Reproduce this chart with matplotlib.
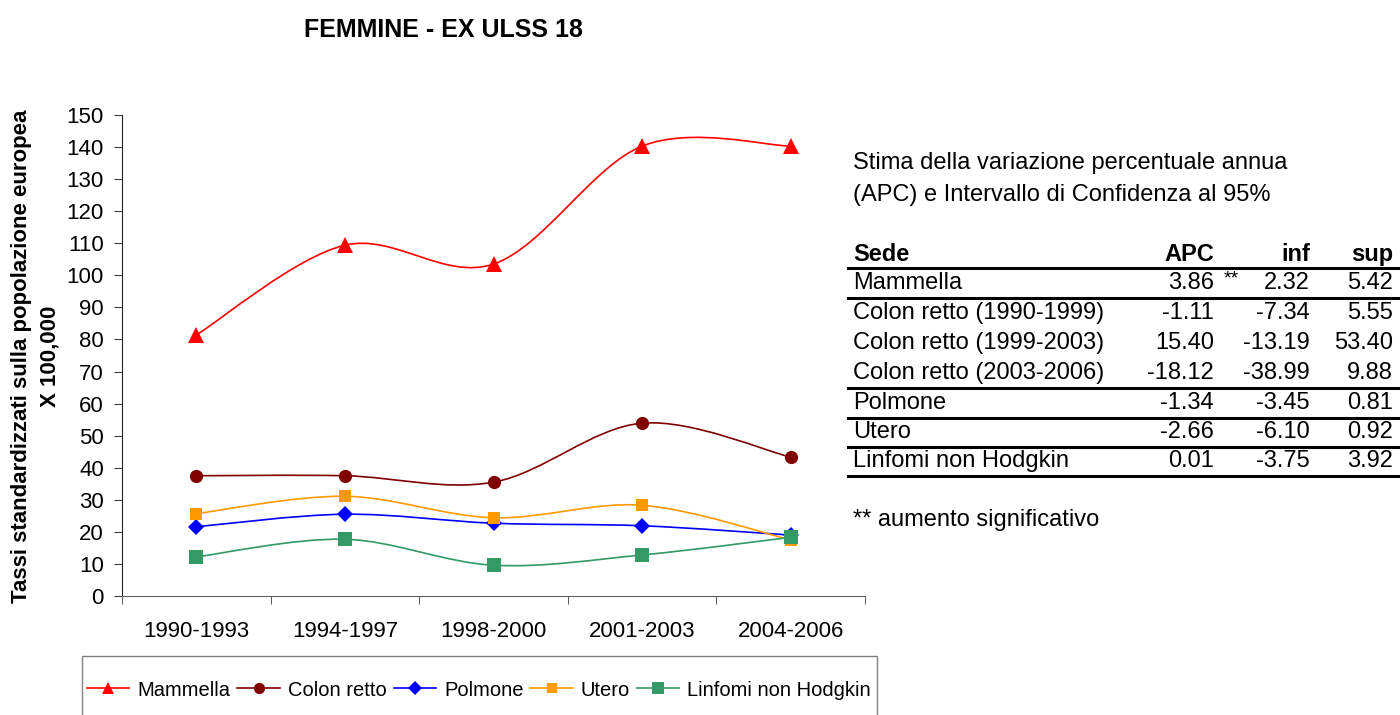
import numpy as np
import matplotlib
matplotlib.use("Agg")
import matplotlib.pyplot as plt
from matplotlib.path import Path
from matplotlib.patches import PathPatch, Rectangle
from matplotlib.lines import Line2D

plt.rcParams['font.family'] = ['Liberation Sans', 'DejaVu Sans']

# data
periods = ['1990-1993', '1994-1997', '1998-2000', '2001-2003', '2004-2006']
mammella = [81.4, 109.4, 103.5, 140.3, 140.3]
colon_retto = [37.5, 37.5, 35.5, 53.9, 43.3]
polmone = [21.6, 25.5, 22.7, 21.9, 19.0]
utero = [25.7, 31.1, 24.4, 28.3, 17.5]
linfomi = [12.2, 17.7, 9.6, 12.8, 18.3]

series_names = ['Mammella', 'Colon retto', 'Polmone', 'Utero', 'Linfomi non Hodgkin']
series_values = [mammella, colon_retto, polmone, utero, linfomi]

# APC table
sede = ['Mammella', 'Colon retto (1990-1999)', 'Colon retto (1999-2003)',
        'Colon retto (2003-2006)', 'Polmone', 'Utero', 'Linfomi non Hodgkin']
apc = ['3.86', '-1.11', '15.40', '-18.12', '-1.34', '-2.66', '0.01']
inf = ['2.32', '-7.34', '-13.19', '-38.99', '-3.45', '-6.10', '-3.75']
sup = ['5.42', '5.55', '53.40', '9.88', '0.81', '0.92', '3.92']
signif = ['**', '', '', '', '', '', '']
group_end = [0, 3, 4, 5, 6]   # rows followed by a rule

# styles
colors = ['#FF0000', '#800000', '#0000FF', '#FF9900', '#339966']
markers = ['^', 'o', 'D', 's', 's']
msizes = [11, 9.5, 8, 9, 10.5]


def smooth_path(xs, ys):
    # excel-like smoothed line: bezier segments through the points
    pts = list(zip(xs, ys))
    n = len(pts)
    verts = [pts[0]]
    codes = [Path.MOVETO]
    for i in range(n - 1):
        p0 = pts[i - 1] if i > 0 else pts[i]
        p1 = pts[i]
        p2 = pts[i + 1]
        p3 = pts[i + 2] if i + 2 < n else pts[i + 1]
        c1 = (p1[0] + (p2[0] - p0[0]) / 6, p1[1] + (p2[1] - p0[1]) / 6)
        c2 = (p2[0] - (p3[0] - p1[0]) / 6, p2[1] - (p3[1] - p1[1]) / 6)
        verts += [c1, c2, p2]
        codes += [Path.CURVE4] * 3
    return Path(verts, codes)


W, H = 1400, 715
fig = plt.figure(figsize=(14, 7.15), dpi=100)
ax = fig.add_axes([122 / W, 1 - 596 / H, (865 - 122) / W, (596 - 115) / H])

x = np.arange(len(periods))
handles = []
for name, vals, c, m, ms in zip(series_names, series_values, colors, markers, msizes):
    ax.add_patch(PathPatch(smooth_path(x, vals), facecolor='none', edgecolor=c, lw=1.2))
    ax.plot(x, vals, ls='none', marker=m, color=c, markersize=ms, markeredgewidth=0)
    handles.append(Line2D([], [], color=c, lw=1.2, marker=m, markersize=ms * 0.85,
                          markeredgewidth=0, label=name))

ax.set_xlim(-0.5, len(periods) - 0.5)
ax.set_ylim(0, 150)
ax.set_yticks(np.arange(0, 151, 10))
ax.set_xticks(x)
ax.set_xticklabels(periods)
ax.set_xticks(np.arange(-0.5, len(periods), 1), minor=True)
ax.tick_params(axis='x', which='major', length=0, pad=18, labelsize=16)
ax.tick_params(axis='x', which='minor', length=6, direction='out', color='#404040')
ax.tick_params(axis='y', length=6, direction='out', pad=7, labelsize=16, color='#404040')
for s in ['top', 'right']:
    ax.spines[s].set_visible(False)
ax.spines['left'].set_color('#202020')
ax.spines['bottom'].set_color('#606060')

# title and y label
fig.text(443 / W, 1 - 30 / H, 'FEMMINE - EX ULSS 18', ha='center', va='center',
         weight='bold', size=18)
fig.text(22 / W, 1 - 356 / H, 'Tassi standardizzati sulla popolazione europea',
         rotation=90, ha='center', va='center', weight='bold', size=16)
fig.text(50 / W, 1 - 356 / H, 'X 100,000', rotation=90, ha='center', va='center',
         weight='bold', size=16)

# table on the right
fig.text(853 / W, 1 - 163 / H, 'Stima della variazione percentuale annua',
         ha='left', va='center', size=17)
fig.text(853 / W, 1 - 195 / H, '(APC) e Intervallo di Confidenza al 95%',
         ha='left', va='center', size=17)

fig.text(853 / W, 1 - 254 / H, 'Sede', ha='left', va='center', weight='bold', size=17)
fig.text(1214 / W, 1 - 254 / H, 'APC', ha='right', va='center', weight='bold', size=17)
fig.text(1310 / W, 1 - 254 / H, 'inf', ha='right', va='center', weight='bold', size=17)
fig.text(1393 / W, 1 - 254 / H, 'sup', ha='right', va='center', weight='bold', size=17)
fig.add_artist(Line2D([848 / W, 1], [1 - 268 / H] * 2, transform=fig.transFigure,
                      color='black', lw=2.2))

row_y = [283, 313, 343, 373, 403, 432, 461]
for i, yy in enumerate(row_y):
    fy = 1 - yy / H
    fig.text(853 / W, fy, sede[i], ha='left', va='center', size=17)
    fig.text(1214 / W, fy, apc[i], ha='right', va='center', size=17)
    if signif[i]:
        fig.text(1224 / W, fy + 0.006, signif[i], ha='left', va='center', size=14)
    fig.text(1310 / W, fy, inf[i], ha='right', va='center', size=17)
    fig.text(1393 / W, fy, sup[i], ha='right', va='center', size=17)
    if i in group_end:
        fig.add_artist(Line2D([848 / W, 1], [1 - (yy + 15) / H] * 2,
                              transform=fig.transFigure, color='black', lw=2.2))

fig.text(853 / W, 1 - 520 / H, '** aumento significativo', ha='left', va='center', size=17)

# legend box (runs off the bottom edge)
fig.add_artist(Rectangle((82 / W, -0.1), 795 / W, 0.1 + 1 - 656 / H, transform=fig.transFigure,
                         fill=False, edgecolor='#808080', lw=1))
fig.legend(handles=handles, loc='center left', bbox_to_anchor=(87 / W, 1 - 690 / H),
           ncol=5, frameon=False, fontsize=14.5, handlelength=2.1, handletextpad=0.4,
           columnspacing=0.35, borderpad=0, borderaxespad=0)

fig.savefig('out.png', dpi=100)
